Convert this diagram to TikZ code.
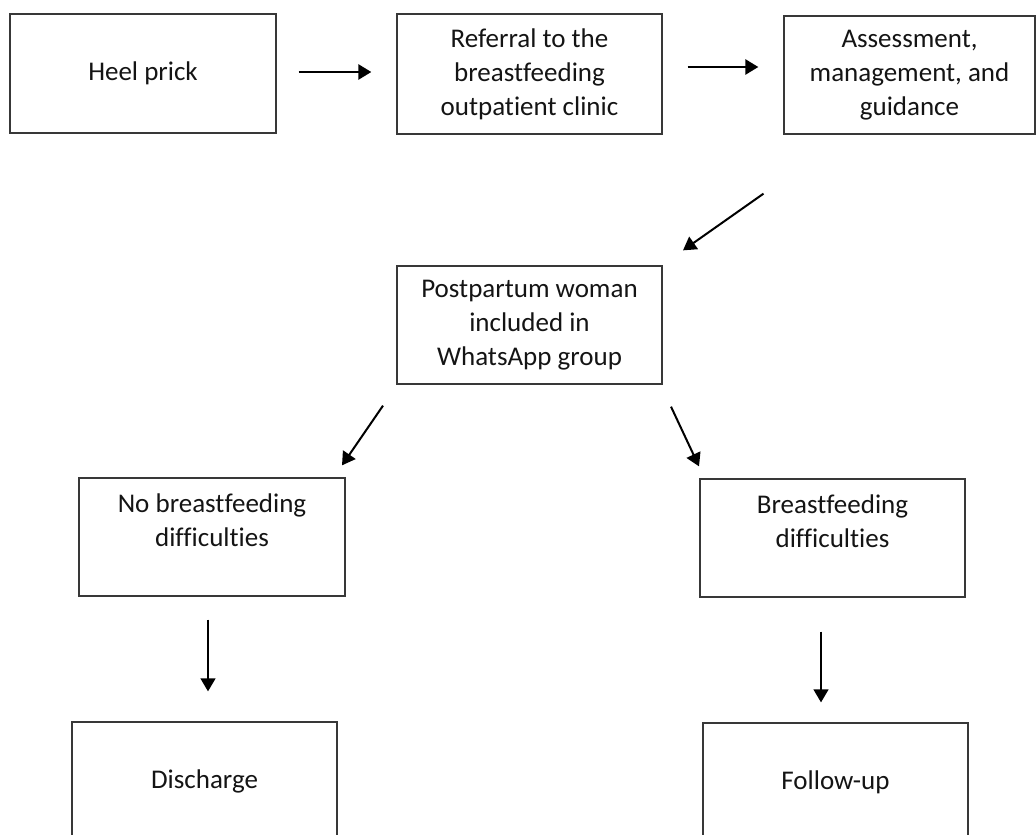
\documentclass[tikz,border=0pt]{standalone}
\usepackage{fontspec}
\setmainfont{Carlito}[Ligatures={NoCommon}]
\usetikzlibrary{arrows.meta,calc}
\begin{document}
\begin{tikzpicture}[x=1pt,y=-1pt,
  box/.style={draw=black!78, line width=1.3pt, inner sep=0pt, minimum height=118pt},
  txt/.style={font=\fontsize{27}{34}\selectfont, align=center, text=black!92},
  arr/.style={line width=2.6pt, -{Triangle[length=13pt,width=15pt]}},
  darr/.style={line width=2pt, -{Triangle[length=13pt,width=15pt]}},
  thinarr/.style={line width=1.3pt, -{Triangle[length=13pt,width=15pt]}}]
\useasboundingbox (0,0) rectangle (1036,835);
\clip (0,0) rectangle (1036,835);
% boxes
\node[box, txt, minimum width=266pt, minimum height=119pt] (heel) at (143,73.5) {Heel prick};
\node[box, txt, minimum width=265pt, minimum height=120pt] (ref) at (529.5,74) {Referral to the\\breastfeeding\\outpatient clinic};
\node[box, txt, minimum width=251pt] (assess) at (909.5,75) {Assessment,\\management, and\\guidance};
\node[box, txt, minimum width=265pt] (post) at (529.5,325) {Postpartum woman\\included in\\WhatsApp group};
\node[box, minimum width=266pt] (nobf) at (212,537) {};
\node[txt] (nobftxt) at ($(nobf.center)+(0,-17)$) {No breastfeeding\\difficulties};
\node[box, minimum width=265pt] (bf) at (832.5,538) {};
\node[txt] (bftxt) at ($(bf.center)+(0,-17)$) {Breastfeeding\\difficulties};
\node[box, txt, minimum width=265pt] (dis) at (204.5,781) {Discharge};
\node[box, txt, minimum width=265pt] (fol) at (835.5,782) {Follow-up};
% connector ends
\coordinate (a1s) at ($(heel.east)+(22,-1.5)$);
\coordinate (a1e) at ($(ref.west)+(-25,-2)$);
\coordinate (a2s) at ($(ref.east)+(25,-7)$);
\coordinate (a2e) at ($(assess.west)+(-25,-8)$);
\coordinate (a3s) at ($(assess.south)+(-146,59)$);
\coordinate (a3e) at ($(post.north)+(153.5,-15)$);
\coordinate (a4s) at ($(post.south)+(-146.5,21)$);
\coordinate (a4e) at ($(nobf.north)+(130,-12)$);
\coordinate (a5s) at ($(post.south)+(141.5,22)$);
\coordinate (a5e) at ($(bf.north)+(-133.5,-12)$);
\coordinate (a6s) at ($(nobf.south)+(-4,23)$);
\coordinate (a6e) at ($(dis.north)+(3.5,-30)$);
\coordinate (a7s) at ($(bf.south)+(-11.5,34)$);
\coordinate (a7e) at ($(fol.north)+(-14.5,-20)$);
% connectors
\draw[arr] (a1s) -- (a1e);
\draw[arr] (a2s) -- (a2e);
\draw[darr] (a3s) -- (a3e);
\draw[darr] (a4s) -- (a4e);
\draw[darr] (a5s) -- (a5e);
\draw[thinarr] (a6s) -- (a6e);
\draw[thinarr] (a7s) -- (a7e);
\end{tikzpicture}
\end{document}
